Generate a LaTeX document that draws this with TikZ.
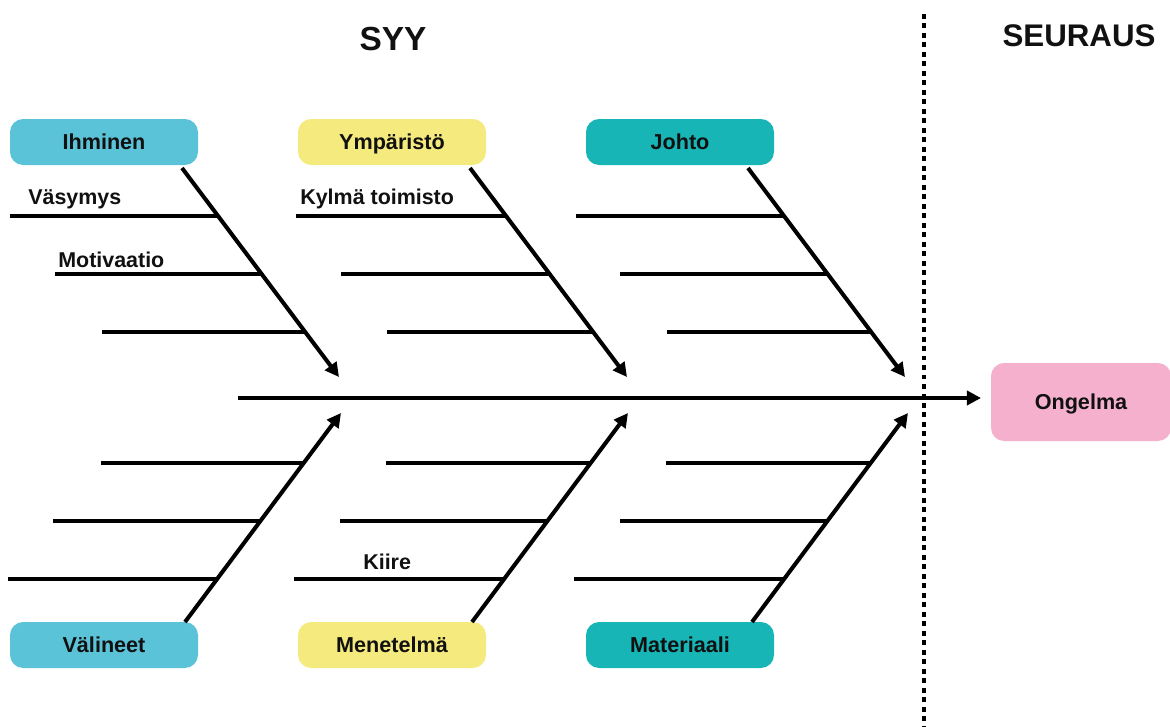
\documentclass[tikz,border=0pt]{standalone}
\usepackage{fontspec}
\setmainfont{Liberation Sans}
\usetikzlibrary{arrows.meta}
\definecolor{cBlue}{HTML}{5BC3D8}
\definecolor{cYellow}{HTML}{F5EA7E}
\definecolor{cTeal}{HTML}{18B5B6}
\definecolor{cPink}{HTML}{F5B0CD}
\definecolor{ink}{HTML}{111111}
\begin{document}
\begin{tikzpicture}[x=0.02cm,y=-0.02cm,
  catbox/.style={rounded corners=7.5pt,minimum width=188*0.02cm,minimum height=46*0.02cm,
    inner sep=0pt,text height=9pt,text depth=0.5pt,font=\bfseries\fontsize{12.3}{14}\selectfont,text=ink},
  effectbox/.style={rounded corners=7.5pt,fill=cPink,minimum width=180*0.02cm,minimum height=78*0.02cm,
    inner sep=0pt,text height=9pt,text depth=0.5pt,font=\bfseries\fontsize{12.3}{14}\selectfont,text=ink},
  bone/.style={line width=2.3pt,-{Triangle[length=8pt,width=8pt]}},
  rib/.style={line width=2.1pt},
  spine/.style={line width=2.3pt,-{Triangle[length=8pt,width=8pt]}},
  cause/.style={anchor=base west,inner sep=0pt,font=\bfseries\fontsize{12.2}{14}\selectfont,text=ink},
  heading/.style={font=\bfseries\fontsize{19}{22}\selectfont,text=ink,inner sep=0pt},
  divider/.style={line width=2.2pt,dash pattern=on 2.8pt off 2.6pt}]
\useasboundingbox (0,0) rectangle (1170,727);

% headings
\node[heading] (syy) at (393,39) {SYY};
\node[heading,font=\bfseries\fontsize{17.8}{21}\selectfont] (seuraus) at (1079,36) {SEURAUS};

% divider between cause and effect
\coordinate (divtop) at (924,14);
\coordinate (divbot) at (924,727);
\draw[divider] (divtop) -- (divbot);

% effect
\node[effectbox] (ongelma) at (1081,402) {Ongelma};

% category boxes
\node[catbox,fill=cBlue]   (ihminen)    at (104,142) {Ihminen};
\node[catbox,fill=cYellow] (ymparisto)  at (392,142) {Ympäristö};
\node[catbox,fill=cTeal]   (johto)      at (680,142) {Johto};
\node[catbox,fill=cBlue]   (valineet)   at (104,645) {Välineet};
\node[catbox,fill=cYellow] (menetelma)  at (392,645) {Menetelmä};
\node[catbox,fill=cTeal]   (materiaali) at (680,645) {Materiaali};

% spine
\coordinate (spinestart) at (238,398);
\coordinate (spinetip) at (981,398);
\draw[spine] (spinestart) -- (spinetip);

% upper bones
\foreach \n/\sx in {a/182,b/470,c/748}{
  \coordinate (top\n s) at (\sx,168);
  \coordinate (top\n e) at ({\sx+157},377);
}
\draw[bone] (topas) -- (topae);
\draw[bone] (topbs) -- (topbe);
\draw[bone] (topcs) -- (topce);

% lower bones
\foreach \n/\sx in {a/185,b/472,c/752}{
  \coordinate (bot\n s) at (\sx,622);
  \coordinate (bot\n e) at ({\sx+156},413);
}
\draw[bone] (botas) -- (botae);
\draw[bone] (botbs) -- (botbe);
\draw[bone] (botcs) -- (botce);

% upper ribs
\foreach \n/\sx/\la/\lb/\lc in {a/182/10/55/102,b/470/296/341/387,c/748/576/620/667}{
  \coordinate (r\n1l) at (\la,216); \coordinate (r\n1r) at ({\sx+(216-168)*0.75},216);
  \coordinate (r\n2l) at (\lb,274); \coordinate (r\n2r) at ({\sx+(274-168)*0.75},274);
  \coordinate (r\n3l) at (\lc,332); \coordinate (r\n3r) at ({\sx+(332-168)*0.75},332);
  \draw[rib] (r\n1l) -- (r\n1r);
  \draw[rib] (r\n2l) -- (r\n2r);
  \draw[rib] (r\n3l) -- (r\n3r);
}

% lower ribs
\foreach \n/\sx/\la/\lb/\lc in {a/185/101/53/8,b/472/386/340/294,c/752/666/620/574}{
  \coordinate (q\n1l) at (\la,463); \coordinate (q\n1r) at ({\sx+(622-463)*0.75},463);
  \coordinate (q\n2l) at (\lb,521); \coordinate (q\n2r) at ({\sx+(622-521)*0.75},521);
  \coordinate (q\n3l) at (\lc,579); \coordinate (q\n3r) at ({\sx+(622-579)*0.75},579);
  \draw[rib] (q\n1l) -- (q\n1r);
  \draw[rib] (q\n2l) -- (q\n2r);
  \draw[rib] (q\n3l) -- (q\n3r);
}

% cause labels
\node[cause] (vasymys)  at (28,204)  {Väsymys};
\node[cause] (motiv)    at (58,267)  {Motivaatio};
\node[cause] (kylma)    at (300,204) {Kylmä toimisto};
\node[cause] (kiire)    at (363,569) {Kiire};
\end{tikzpicture}
\end{document}
